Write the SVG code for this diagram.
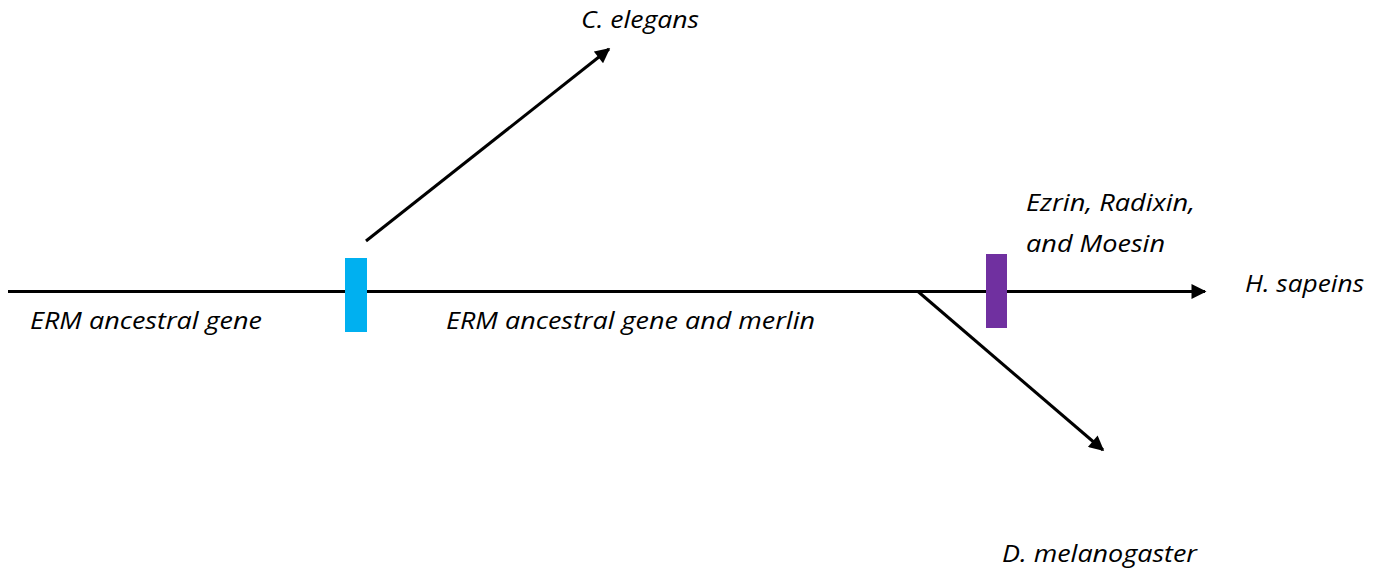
<svg xmlns="http://www.w3.org/2000/svg" width="1380" height="569" viewBox="0 0 1380 569">
<style>
  .lbl { font-family: "Open Sans", "Liberation Sans", sans-serif; font-style: italic; font-size: 24px; fill: #000; }
  .edge { stroke: #000; stroke-width: 3; fill: none; }
</style>
<defs>
  <marker id="arrow" viewBox="0 0 10 10" refX="9" refY="5" markerWidth="5.5" markerHeight="5" markerUnits="strokeWidth" orient="auto">
    <path d="M0,0 L10,5 L0,10 Z" fill="#000"/>
  </marker>
</defs>
<rect width="1380" height="569" fill="#fff"/>
<g id="connectors">
  <line class="edge" x1="8" y1="291.5" x2="1205" y2="291.5" marker-end="url(#arrow)"/>
  <line class="edge" x1="366" y1="241" x2="609" y2="49" marker-end="url(#arrow)"/>
  <line class="edge" x1="918" y1="291.5" x2="1103" y2="450" marker-end="url(#arrow)"/>
</g>
<g id="event-cyan">
  <rect x="345" y="258" width="22" height="74" fill="#00B0F0"/>
</g>
<g id="event-purple">
  <rect x="986" y="254" width="21" height="74" fill="#7030A0"/>
</g>
<g id="label-celegans"><text class="lbl" x="581" y="28" textLength="118" lengthAdjust="spacingAndGlyphs">C. elegans</text></g>
<g id="label-erm"><text class="lbl" x="30" y="329" textLength="232" lengthAdjust="spacingAndGlyphs">ERM ancestral gene</text></g>
<g id="label-erm-merlin"><text class="lbl" x="446" y="329" textLength="369" lengthAdjust="spacingAndGlyphs">ERM ancestral gene and merlin</text></g>
<g id="label-ezrin">
  <text class="lbl" x="1026" y="211" textLength="169" lengthAdjust="spacingAndGlyphs">Ezrin, Radixin,</text>
  <text class="lbl" x="1026" y="252" textLength="139" lengthAdjust="spacingAndGlyphs">and Moesin</text>
</g>
<g id="label-hsapiens"><text class="lbl" x="1245" y="292" textLength="119" lengthAdjust="spacingAndGlyphs">H. sapeins</text></g>
<g id="label-dmel"><text class="lbl" x="1002" y="562" textLength="195" lengthAdjust="spacingAndGlyphs">D. melanogaster</text></g>
</svg>
